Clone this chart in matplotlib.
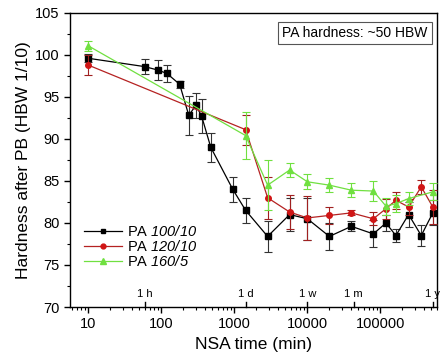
import matplotlib
matplotlib.use("Agg")
import matplotlib.pyplot as plt
from matplotlib.ticker import MultipleLocator, LogLocator, NullFormatter
from matplotlib.lines import Line2D
import numpy as np

plt.rcParams['font.family'] = ['Liberation Sans', 'DejaVu Sans']
plt.rcParams['mathtext.fontset'] = 'custom'
plt.rcParams['mathtext.sf'] = 'Liberation Sans:italic'
plt.rcParams['mathtext.rm'] = 'Liberation Sans'

# PA 100/10
t_a = [10, 60, 90, 120, 180, 240, 300, 360, 480, 960, 1440, 2880, 5760, 10080,
       20160, 40320, 80640, 120000, 164000, 245000, 365000, 525000]
h_a = [99.6, 98.6, 98.2, 97.8, 96.5, 92.8, 94.0, 92.7, 89.0, 84.0, 81.5, 78.4, 81.0, 80.5,
       78.4, 79.6, 78.7, 80.0, 78.5, 81.0, 78.5, 81.2]
e_a = [0.5, 0.9, 1.2, 1.0, 0.4, 2.3, 1.5, 2.0, 1.7, 1.5, 1.5, 1.8, 2.0, 2.5,
       1.6, 0.6, 1.6, 1.0, 0.8, 1.5, 1.2, 1.5]

# PA 120/10
t_b = [10, 1440, 2880, 5760, 10080, 20160, 40320, 80640, 120000, 164000, 245000, 365000, 525000]
h_b = [98.8, 91.1, 83.0, 81.3, 80.6, 80.9, 81.2, 80.5, 81.7, 82.7, 81.9, 84.3, 81.9]
e_b = [1.2, 1.8, 2.5, 2.0, 2.6, 1.0, 0.3, 0.8, 1.2, 1.0, 1.0, 0.8, 2.0]

# PA 160/5
t_c = [10, 1440, 2880, 5760, 10080, 20160, 40320, 80640, 120000, 164000, 245000, 525000]
h_c = [101.1, 90.4, 84.5, 86.3, 84.9, 84.5, 83.9, 83.8, 82.0, 82.3, 82.9, 83.7]
e_c = [0.6, 2.8, 3.0, 0.8, 0.9, 0.8, 0.8, 1.2, 1.0, 1.0, 0.8, 1.0]

labels = ["PA $\\mathsf{100/10}$", "PA $\\mathsf{120/10}$", "PA $\\mathsf{160/5}$"]

time_marks = [60, 1440, 10080, 43200, 525600]
time_labels = ["1 h", "1 d", "1 w", "1 m", "1 y"]

col_a, col_b, col_c = 'black', '#b52222', '#70e040'
mk_b = '#d01515'

fig = plt.figure(figsize=(4.41, 3.57), dpi=100)
ax = fig.add_axes([0.159, 0.140, 0.832, 0.824])

ax.errorbar(t_a, h_a, yerr=e_a, color=col_a, ecolor='#333333', marker='s', ms=4,
            lw=0.9, elinewidth=0.8, capsize=3, capthick=0.8, zorder=3)
ax.errorbar(t_b, h_b, yerr=e_b, color=col_b, mfc=mk_b, mec=mk_b, ecolor='#a02020',
            marker='o', ms=4, lw=0.9, elinewidth=0.8, capsize=3, capthick=0.8, zorder=4)
ax.errorbar(t_c, h_c, yerr=e_c, color=col_c, ecolor=col_c, marker='^', ms=5,
            lw=0.9, elinewidth=0.8, capsize=3, capthick=0.8, zorder=5)

ax.set_xscale('log')
ax.set_xlim(5.7, 600000)
ax.set_ylim(70, 105)
ax.yaxis.set_major_locator(MultipleLocator(5))
ax.yaxis.set_minor_locator(MultipleLocator(2.5))
ax.xaxis.set_minor_locator(LogLocator(base=10, subs=np.arange(2, 10), numticks=20))
ax.xaxis.set_minor_formatter(NullFormatter())
ax.set_xticks([10, 100, 1000, 10000, 100000])
ax.set_xticklabels(["10", "100", "1000", "10000", "100000"])

ax.tick_params(axis='both', which='major', direction='out', length=4, width=1.0, labelsize=10.5)
ax.tick_params(axis='both', which='minor', direction='out', length=2.5, width=0.8)
for s in ax.spines.values():
    s.set_linewidth(1.0)

# time marks
for tm, tl in zip(time_marks, time_labels):
    ax.plot([tm, tm], [70, 70.55], color='black', lw=1.0, clip_on=False)
    ax.text(tm, 71.0, tl, ha='center', va='bottom', fontsize=8)

ax.set_xlabel("NSA time (min)", fontsize=12.5, labelpad=4)
ax.set_ylabel("Hardness after PB (HBW 1/10)", fontsize=12.5, labelpad=3)

ax.text(0.975, 0.955, "PA hardness: ~50 HBW", transform=ax.transAxes, ha='right', va='top',
        fontsize=10, bbox=dict(boxstyle='square,pad=0.3', fc='white', ec='#555555', lw=0.8))

handles = [
    Line2D([], [], color=col_a, marker='s', ms=3.5, lw=0.9),
    Line2D([], [], color=col_b, marker='o', ms=3.5, lw=0.9, mfc=mk_b, mec=mk_b),
    Line2D([], [], color=col_c, marker='^', ms=4, lw=0.9),
]
ax.legend(handles, labels, loc='lower left', bbox_to_anchor=(0.01, 0.095), frameon=False,
          fontsize=10.5, handlelength=2.6, handletextpad=0.35, labelspacing=0.0, borderpad=0.2)

fig.savefig("out.png", dpi=100)
